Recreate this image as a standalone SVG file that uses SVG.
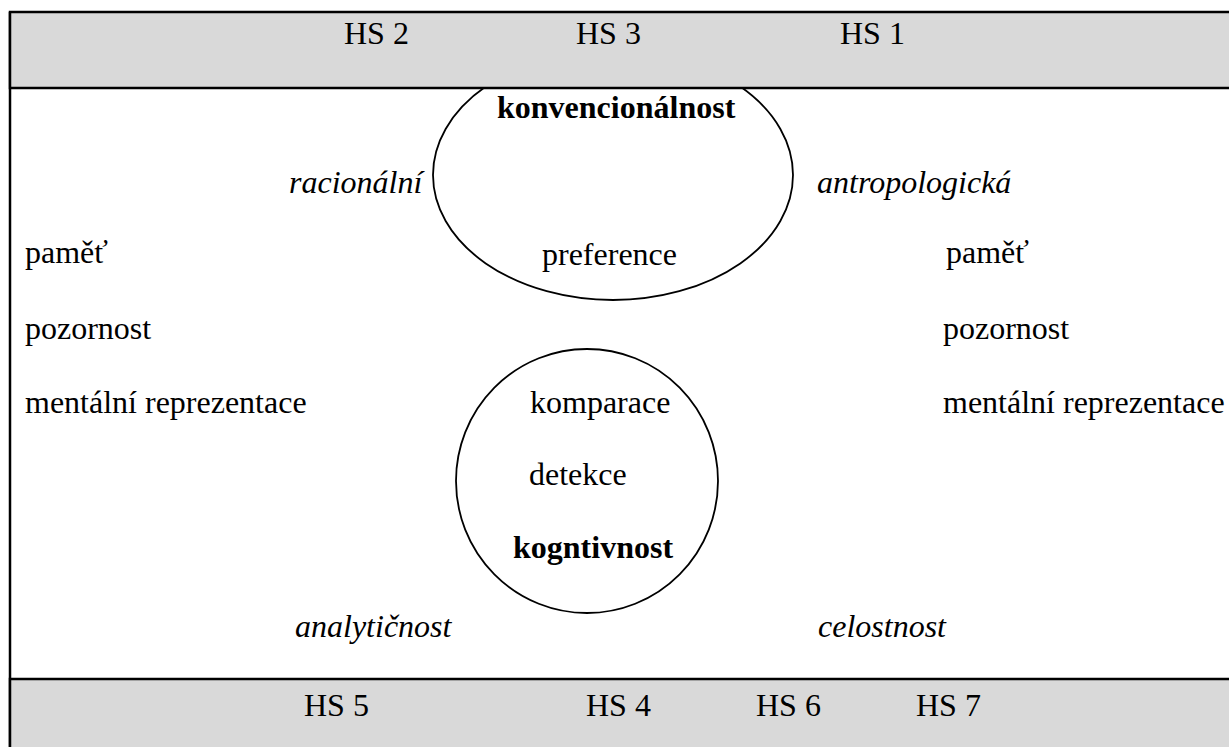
<svg xmlns="http://www.w3.org/2000/svg" width="1229" height="747" viewBox="0 0 1229 747">
<style>
.t{font-family:"Liberation Serif","Times New Roman",serif;font-size:32px;fill:#000}
.b{font-weight:bold}
.i{font-style:italic}
.bar{fill:#d9d9d9;stroke:#000;stroke-width:2.5}
.shape{fill:none;stroke:#000;stroke-width:1.8}
</style>
<rect x="0" y="0" width="1229" height="747" fill="#fff"/>
<g id="frame">
<line x1="10" y1="12" x2="10" y2="747" stroke="#000" stroke-width="2.5"/>
</g>
<g id="ellipse-konvencionalnost">
<ellipse class="shape" cx="613" cy="175" rx="180" ry="125"/>
<text class="t b" x="497" y="118">konvencionálnost</text>
<text class="t" x="542" y="265">preference</text>
</g>
<g id="circle-kognitivnost">
<ellipse class="shape" cx="587" cy="481" rx="131" ry="132"/>
<text class="t" x="530" y="413">komparace</text>
<text class="t" x="529" y="485">detekce</text>
<text class="t b" x="513" y="558">kogntivnost</text>
</g>
<g id="top-bar">
<rect class="bar" x="10" y="12" width="1230" height="76"/>
<text class="t" x="344" y="44">HS 2</text>
<text class="t" x="576" y="44">HS 3</text>
<text class="t" x="840" y="44">HS 1</text>
</g>
<g id="bottom-bar">
<rect class="bar" x="10" y="679" width="1230" height="80"/>
<text class="t" x="304" y="716">HS 5</text>
<text class="t" x="586" y="716">HS 4</text>
<text class="t" x="756" y="716">HS 6</text>
<text class="t" x="916" y="716">HS 7</text>
</g>
<g id="left-labels">
<text class="t i" x="289" y="193">racionální</text>
<text class="t" x="25" y="263">paměť</text>
<text class="t" x="25" y="339">pozornost</text>
<text class="t" x="25" y="413">mentální reprezentace</text>
<text class="t i" x="295" y="637">analytičnost</text>
</g>
<g id="right-labels">
<text class="t i" x="817" y="193">antropologická</text>
<text class="t" x="946" y="263">paměť</text>
<text class="t" x="943" y="339">pozornost</text>
<text class="t" x="943" y="413">mentální reprezentace</text>
<text class="t i" x="818" y="637">celostnost</text>
</g>
<g id="connectors"></g>
</svg>
